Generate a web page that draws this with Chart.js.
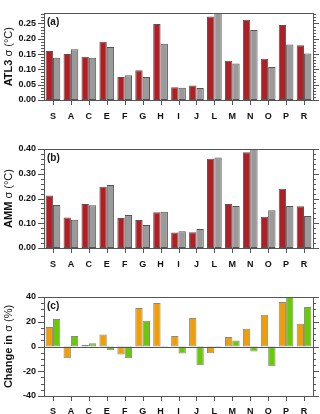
<!DOCTYPE html>
<html>
<head>
<meta charset="utf-8">
<script src="https://cdn.jsdelivr.net/npm/chart.js"></script>
<style>
  html, body { margin: 0; padding: 0; background: #fff; }
  body { width: 320px; height: 414px; position: relative; overflow: hidden; }
  .panel { position: absolute; left: 0; width: 320px; }
</style>
</head>
<body>
<div class="panel" style="top:0;height:124px"><canvas id="chartA"></canvas></div>
<div class="panel" style="top:124px;height:148px"><canvas id="chartB"></canvas></div>
<div class="panel" style="top:272px;height:142px"><canvas id="chartC"></canvas></div>
<script>
// categories on the x axis
const categories = ['S', 'A', 'C', 'E', 'F', 'G', 'H', 'I', 'J', 'L', 'M', 'N', 'O', 'P', 'R']

// (a) ATL3 sigma
const atl3Red = [0.160, 0.150, 0.141, 0.190, 0.075, 0.097, 0.248, 0.042, 0.047, 0.273, 0.128, 0.262, 0.135, 0.245, 0.179]
const atl3Gray = [0.138, 0.166, 0.138, 0.173, 0.081, 0.075, 0.184, 0.040, 0.039, 0.290, 0.119, 0.229, 0.108, 0.181, 0.152]

// (b) AMM sigma
const ammRed = [0.212, 0.123, 0.178, 0.247, 0.121, 0.113, 0.144, 0.063, 0.064, 0.361, 0.178, 0.387, 0.126, 0.239, 0.169]
const ammGray = [0.174, 0.114, 0.173, 0.255, 0.133, 0.093, 0.146, 0.068, 0.077, 0.366, 0.170, 0.400, 0.153, 0.170, 0.129]

// (c) change in sigma (%)
const changeAtl3 = [15.7, -9.5, 1.4, 9.7, -6.5, 31.1, 35.1, 8.4, 23.0, -5.4, 7.6, 14.3, 25.7, 35.9, 18.4]
const changeAmm = [22.2, 8.4, 2.7, -3.0, -9.5, 20.8, -0.5, -5.7, -15.1, -1.1, 4.9, -4.1, -15.9, 40.6, 31.9]

const FONT = '"Liberation Sans", Arial, sans-serif'
const AXIS = '#555'

// draws frame, tick marks, panel letter and the mixed-weight y title
const panelDeco = {
    id: 'panelDeco',
    afterDraw(chart, args, opts) {
        const ctx = chart.ctx
        const a = chart.chartArea
        const y = chart.scales.y
        const x = chart.scales.x
        ctx.save()
        ctx.strokeStyle = AXIS
        ctx.lineWidth = 1

        if (opts.zeroLine) {
            const z = Math.round(y.getPixelForValue(0)) + 0.5
            ctx.beginPath()
            ctx.moveTo(a.left, z)
            ctx.lineTo(a.right, z)
            ctx.stroke()
        }

        ctx.strokeRect(Math.round(a.left) + 0.5, Math.round(a.top) + 0.5,
            Math.round(a.right - a.left), Math.round(a.bottom - a.top))

        // y ticks, major and minor, both sides
        ctx.beginPath()
        for (let i = 0; ; i++) {
            const v = y.min + i * opts.minor
            if (v > y.max + 1e-9) break
            const p = Math.round(y.getPixelForValue(v)) + 0.5
            const major = Math.abs(Math.round(v / opts.major) * opts.major - v) < 1e-9
            const len = major ? 6 : 3
            ctx.moveTo(a.left, p)
            ctx.lineTo(a.left - len, p)
            ctx.moveTo(a.right, p)
            ctx.lineTo(a.right + len, p)
        }
        // x ticks at category centres
        categories.forEach((c, i) => {
            const p = Math.round(x.getPixelForValue(i)) + 0.5
            ctx.moveTo(p, a.bottom)
            ctx.lineTo(p, a.bottom + 5)
        })
        ctx.stroke()

        // panel letter
        ctx.fillStyle = '#111'
        ctx.font = 'bold 10px ' + FONT
        ctx.textBaseline = 'top'
        ctx.textAlign = 'left'
        ctx.fillText(opts.letter, a.left + 3, a.top + 4)

        // y title, bold part + normal part
        ctx.translate(9, (a.top + a.bottom) / 2)
        ctx.rotate(-Math.PI / 2)
        ctx.textBaseline = 'middle'
        ctx.font = 'bold 11px ' + FONT
        const w1 = ctx.measureText(opts.titleBold).width
        ctx.font = '11px ' + FONT
        const w2 = ctx.measureText(opts.titleNormal).width
        let sx = -(w1 + w2) / 2
        ctx.font = 'bold 11px ' + FONT
        ctx.fillText(opts.titleBold, sx, 0)
        ctx.font = '11px ' + FONT
        ctx.fillText(opts.titleNormal, sx + w1, 0)
        ctx.restore()
    }
}

function makePanel(id, s1, s2, c1, c2, border, yOpts, deco, pad, xHeight, xPad) {
    new Chart(document.getElementById(id), {
        type: 'bar',
        data: {
            labels: categories,
            datasets: [
                { data: s1, backgroundColor: c1, borderColor: border, borderWidth: 1, borderSkipped: false },
                { data: s2, backgroundColor: c2, borderColor: border, borderWidth: 1, borderSkipped: false }
            ]
        },
        options: {
            responsive: true,
            maintainAspectRatio: false,
            animation: false,
            layout: { padding: { top: pad, right: 7, left: 0, bottom: 0 } },
            datasets: { bar: { categoryPercentage: 0.82, barPercentage: 1.0 } },
            plugins: {
                legend: { display: false },
                tooltip: { enabled: false },
                panelDeco: deco
            },
            scales: {
                x: {
                    grid: { display: false, drawTicks: false },
                    border: { display: false },
                    ticks: { color: '#111', padding: xPad, font: { family: FONT, size: 9, weight: 'bold' } },
                    afterFit: s => { s.height = xHeight }
                },
                y: {
                    min: yOpts.min,
                    max: yOpts.max,
                    grid: { display: false, drawTicks: false },
                    border: { display: false },
                    ticks: {
                        stepSize: yOpts.step,
                        includeBounds: false,
                        padding: 8,
                        color: '#111',
                        font: { family: FONT, size: 9, weight: 'bold' },
                        callback: yOpts.fmt
                    },
                    afterFit: s => { s.width = 44 }
                }
            }
        },
        plugins: [panelDeco]
    })
}

makePanel('chartA', atl3Red, atl3Gray, '#b21e24', '#9a9a9a', '#555',
    { min: 0, max: 0.283, step: 0.05, fmt: v => v.toFixed(2) },
    { letter: '(a)', titleBold: 'ATL3 ', titleNormal: 'σ (°C)', major: 0.05, minor: 0.01 },
    0, 24, 11)

makePanel('chartB', ammRed, ammGray, '#b21e24', '#9a9a9a', '#555',
    { min: 0, max: 0.4, step: 0.1, fmt: v => v.toFixed(2) },
    { letter: '(b)', titleBold: 'AMM ', titleNormal: 'σ (°C)', major: 0.1, minor: 0.02 },
    25, 24, 11)

makePanel('chartC', changeAtl3, changeAmm, '#f29e00', '#66cc00', '#8a8a8a',
    { min: -40, max: 40, step: 20, fmt: v => v.toFixed(0) },
    { letter: '(c)', titleBold: 'Change in ', titleNormal: 'σ (%)', major: 20, minor: 5, zeroLine: true },
    25, 18, 10)
</script>
</body>
</html>
